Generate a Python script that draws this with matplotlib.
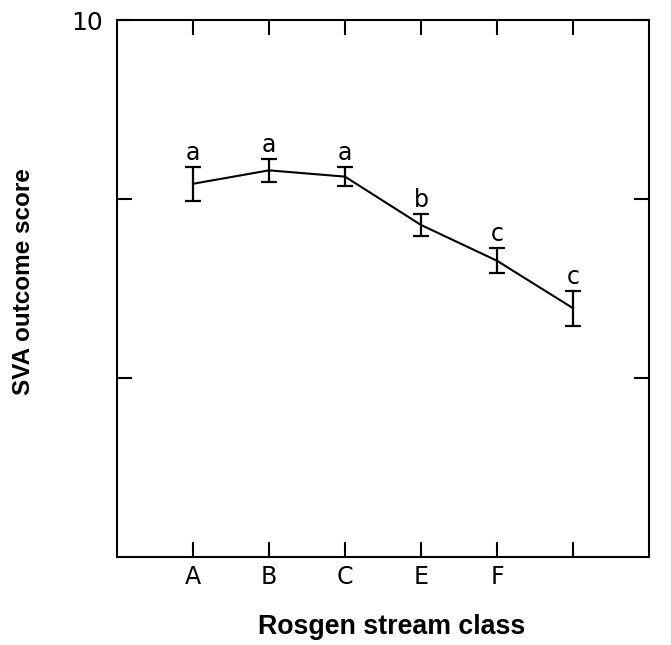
import matplotlib
matplotlib.use("Agg")
import matplotlib.pyplot as plt

# Данные
classes = ["A", "B", "C", "E", "F", ""]
scores = [8.17, 8.32, 8.25, 7.71, 7.31, 6.78]
errors = [0.19, 0.125, 0.11, 0.12, 0.14, 0.195]
groups = ["a", "a", "a", "b", "c", "c"]
y_ticks = [6, 8, 10]
y_tick_labels = ["", "", "10"]

x = list(range(1, len(classes) + 1))

fig = plt.figure(figsize=(6.71, 6.45), dpi=100)
ax = fig.add_axes([117 / 671, 1 - 557 / 645, (649 - 117) / 671, (557 - 20) / 645])

ax.errorbar(x, scores, yerr=errors, color="black", linewidth=1.5,
            elinewidth=1.6, capsize=6, capthick=1.6)

for xi, yi, err, g in zip(x, scores, errors, groups):
    ax.text(xi, yi + err + 0.02, g, ha="center", va="bottom",
            fontsize=17, family="DejaVu Sans")

ax.set_xlim(0, len(classes) + 1)
ax.set_ylim(4, 10)
ax.set_xticks(x)
ax.set_xticklabels(classes, fontsize=17)
ax.set_yticks(y_ticks)
ax.set_yticklabels(y_tick_labels, fontsize=18)

ax.tick_params(direction="in", length=11, width=1.5,
               top=True, right=True, pad=6)
ax.tick_params(axis="y", pad=10)
for sp in ax.spines.values():
    sp.set_linewidth(1.5)

ax.set_xlabel("Rosgen stream class", fontsize=19.3, fontweight="bold",
              family="Liberation Sans", va="center")
ax.xaxis.set_label_coords(0.517, -0.130)
ax.set_ylabel("SVA outcome score", fontsize=17.5, fontweight="bold",
              family="Liberation Sans", va="center")
ax.yaxis.set_label_coords(-0.175, 0.512)

fig.savefig("out.png", dpi=100)
